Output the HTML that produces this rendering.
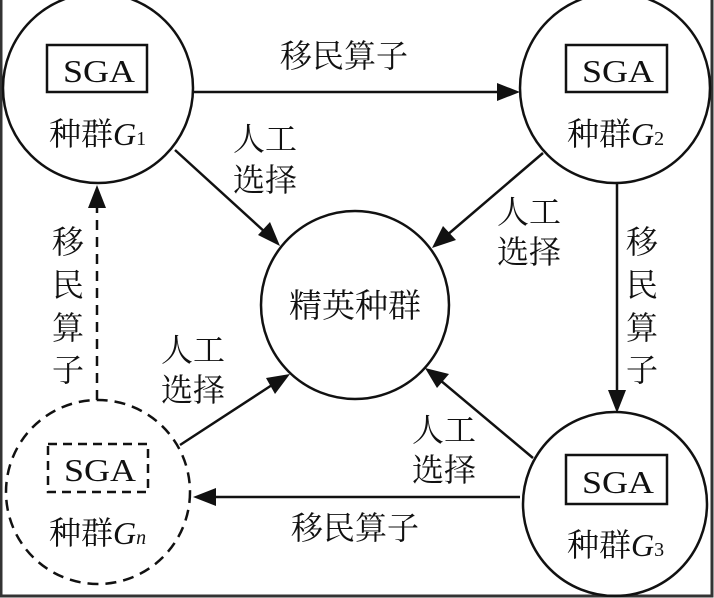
<!DOCTYPE html>
<html><head><meta charset="utf-8"><style>
html,body{margin:0;padding:0;background:#fff}
svg{display:block}
text{font-family:"Liberation Serif","Noto Serif CJK SC",serif;fill:#111}
</style></head><body>
<svg width="714" height="598" viewBox="0 0 714 598" xmlns="http://www.w3.org/2000/svg">
<rect x="0" y="0" width="714" height="598" fill="#fff"/>
<rect x="1" y="-2" width="711" height="598" fill="none" stroke="#333" stroke-width="3"/>
<g fill="none" stroke="#111" stroke-width="2.5">
<circle cx="98" cy="88" r="95"/>
<circle cx="615" cy="88" r="95"/>
<circle cx="355" cy="305" r="94"/>
<circle cx="615" cy="504" r="92"/>
<circle cx="98" cy="492" r="92" stroke-dasharray="11,7"/>
<rect x="47" y="45" width="100" height="47"/>
<rect x="566" y="45" width="101" height="47"/>
<rect x="566" y="455" width="101" height="49"/>
<rect x="48" y="444" width="100" height="48" stroke-dasharray="9,6"/>
<line x1="193" y1="92" x2="500" y2="92"/>
<line x1="617" y1="183" x2="617" y2="393"/>
<line x1="520" y1="497" x2="213" y2="497"/>
<line x1="97" y1="400" x2="97" y2="205" stroke-dasharray="10,7"/>
<line x1="175" y1="150" x2="266" y2="233"/>
<line x1="543" y1="153" x2="446" y2="236"/>
<line x1="180" y1="445" x2="272" y2="385"/>
<line x1="533" y1="458" x2="440" y2="380"/>
</g>
<g fill="#111">
<polygon points="520,92 497,83 497,101"/>
<polygon points="617,413 608,390 626,390"/>
<polygon points="193,497 216,488 216,506"/>
<polygon points="97,185 88,208 106,208"/>
<polygon points="280,246 258,235 270,222"/>
<polygon points="432,248 443,226 456,240"/>
<polygon points="290,374 275,394 266,378"/>
<polygon points="425,368 449,374 437,388"/>
</g>
<g font-size="32" text-anchor="middle">
<text x="99" y="82" textLength="72" lengthAdjust="spacingAndGlyphs">SGA</text>
<text x="618" y="82" textLength="72" lengthAdjust="spacingAndGlyphs">SGA</text>
<text x="618" y="493" textLength="72" lengthAdjust="spacingAndGlyphs">SGA</text>
<text x="100" y="481" textLength="72" lengthAdjust="spacingAndGlyphs">SGA</text>
</g>
<g font-size="32">
<text x="49" y="145">种群<tspan font-style="italic">G</tspan><tspan font-size="20">1</tspan></text>
<text x="567" y="145">种群<tspan font-style="italic">G</tspan><tspan font-size="20">2</tspan></text>
<text x="567" y="556">种群<tspan font-style="italic">G</tspan><tspan font-size="20">3</tspan></text>
<text x="49" y="544">种群<tspan font-style="italic">G</tspan><tspan font-size="20" font-style="italic">n</tspan></text>
<text x="280" y="67">移民算子</text>
<text x="291" y="539">移民算子</text>
<text x="233" y="150">人工</text>
<text x="233" y="191">选择</text>
<text x="497" y="223">人工</text>
<text x="497" y="263">选择</text>
<text x="161" y="361">人工</text>
<text x="161" y="401">选择</text>
<text x="412" y="441">人工</text>
<text x="412" y="481">选择</text>
<text x="52" y="253">移</text>
<text x="52" y="296">民</text>
<text x="52" y="339">算</text>
<text x="52" y="381">子</text>
<text x="626" y="253">移</text>
<text x="626" y="296">民</text>
<text x="626" y="339">算</text>
<text x="626" y="381">子</text>
</g>
<text x="355" y="317" font-size="33" text-anchor="middle">精英种群</text>
</svg>
</body></html>
